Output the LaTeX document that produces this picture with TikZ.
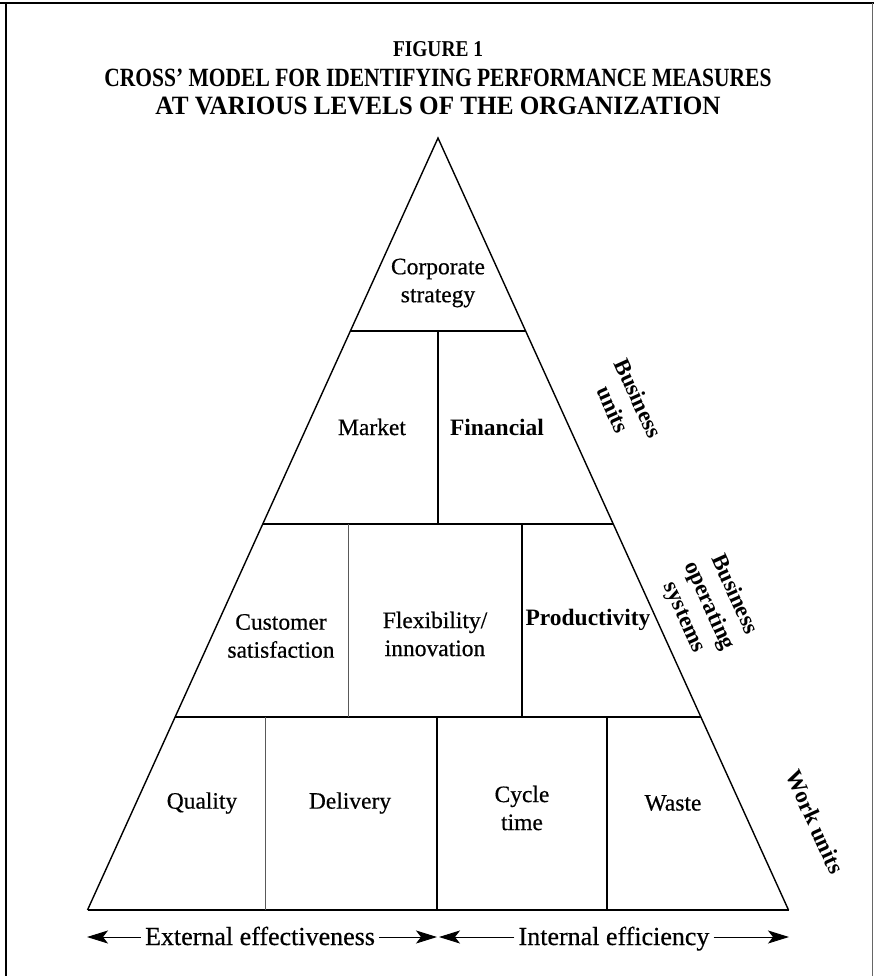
\documentclass[tikz,border=0pt]{standalone}
\usepackage{fontspec}
\usepackage{graphicx}
\setmainfont{Liberation Serif}
\newfontfamily\cellfont[FakeBold=0.5]{Liberation Serif}
\usetikzlibrary{arrows.meta,calc}
\begin{document}
\begin{tikzpicture}[x=1pt,y=-1pt,
  edge/.style={line width=1.4pt, line join=miter},
  tier/.style={line width=2.3pt},
  thickdiv/.style={line width=1.6pt},
  thindiv/.style={line width=0.7pt, black!65},
  cell/.style={font=\cellfont\fontsize{23.5}{28}\selectfont, align=center, inner sep=0pt},
  cellb/.style={font=\fontsize{23.5}{28}\selectfont\bfseries, align=center, inner sep=0pt},
  side/.style={font=\fontsize{23}{27.5}\selectfont\bfseries, align=center, rotate=-65.6, inner sep=0pt},
  axis/.style={font=\cellfont\fontsize{26}{30}\selectfont, inner sep=0pt, anchor=base},
  arr/.style={line width=0.9pt, -{Stealth[length=21pt,width=13pt,inset=5pt]}},
  ttl/.style={inner sep=0pt}
]
\useasboundingbox (0,0) rectangle (874,976);
\fill[white] (0,0) rectangle (874,976);

% frame
\draw[line width=2.5pt] (0,3) -- (874,3);
\draw[line width=1.5pt] (6,3) -- (6,976);
\draw[line width=1pt, black!60] (872.5,3) -- (872.5,976);

% title
\node[ttl] (fig) at (438,49) {\resizebox{90pt}{15pt}{\bfseries FIGURE 1}};
\node[ttl] (t1) at (438,78) {\resizebox{667pt}{17.5pt}{\bfseries CROSS' MODEL FOR IDENTIFYING PERFORMANCE MEASURES}};
\node[ttl] (t2) at (438,106) {\resizebox{565pt}{17.5pt}{\bfseries AT VARIOUS LEVELS OF THE ORGANIZATION}};

% pyramid
\coordinate (A) at (438,138);
\coordinate (BL) at (87.5,910);
\coordinate (BR) at (788.5,910);
\coordinate (L1) at ($(A)!0.25!(BL)$);
\coordinate (R1) at ($(A)!0.25!(BR)$);
\coordinate (L2) at ($(A)!0.5!(BL)$);
\coordinate (R2) at ($(A)!0.5!(BR)$);
\coordinate (L3) at ($(A)!0.75!(BL)$);
\coordinate (R3) at ($(A)!0.75!(BR)$);

\draw[edge] (BL) -- (A) -- (BR);
\draw[line width=2.8pt] (BL) -- (BR);
\draw[tier] (L1) -- (R1);
\draw[tier] (L2) -- (R2);
\draw[tier] (L3) -- (R3);

% dividers
\draw[thickdiv] (438,331) -- (438,524);
\draw[thindiv] (348,524) -- (348,717);
\draw[thickdiv] (522,524) -- (522,717);
\draw[thindiv] (265,717) -- (265,910);
\draw[thickdiv] (437,717) -- (437,910);
\draw[thickdiv] (607,717) -- (607,910);

% cell texts
\node[cell] (corp) at (438,283) {Corporate\\strategy};
\node[cell] (market) at (372,427) {Market};
\node[cellb] (fin) at (497,427) {Financial};
\node[cell] (cust) at (281,636) {Customer\\satisfaction};
\node[cell] (flex) at (435,634) {Flexibility/\\innovation};
\node[cellb] (prod) at (588,620) {Productivity};
\node[cell] (qual) at (202,803) {Quality};
\node[cell] (deliv) at (350,803) {Delivery};
\node[cell] (cycle) at (522,808) {Cycle\\time};
\node[cell] (waste) at (673,803) {Waste};

% side labels
\node[side] (bu) at (626,404) {Business\\units};
\node[side] (bos) at (709,606) {Business\\operating\\systems};
\node[side] (wu) at (815,822) {Work units};

% bottom axis
\node[axis] (ext) at (260,945) {External effectiveness};
\node[axis] (int) at (614,945) {Internal efficiency};
\coordinate (lt) at (87,937);
\coordinate (ml) at (437,937);
\coordinate (mr) at (439,937);
\coordinate (rt) at (789,937);
\draw[arr] ($(ext.west |- lt)+(-4,0)$) -- (lt);
\draw[arr] ($(ext.east |- lt)+(4,0)$) -- (ml);
\draw[arr] ($(int.west |- lt)+(-4,0)$) -- (mr);
\draw[arr] ($(int.east |- lt)+(4,0)$) -- (rt);
\end{tikzpicture}
\end{document}
